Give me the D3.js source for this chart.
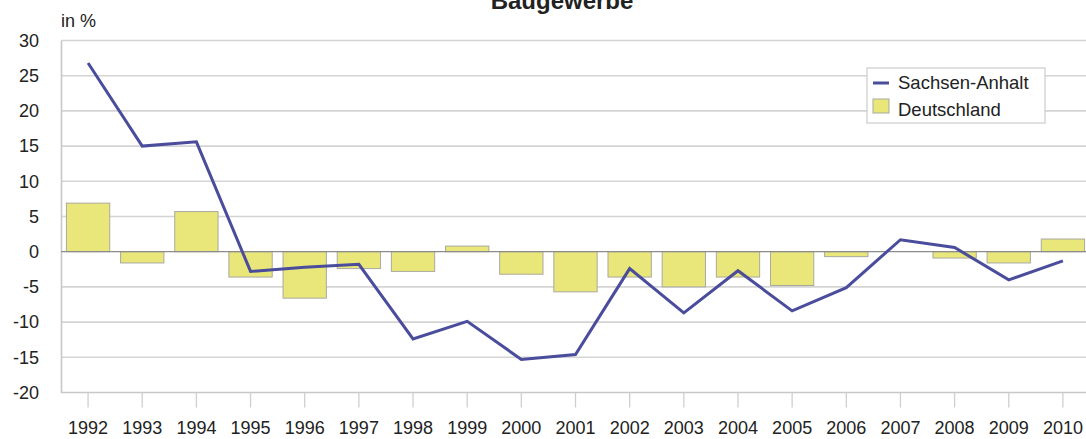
<!DOCTYPE html>
<html><head><meta charset="utf-8">
<script src="https://cdn.jsdelivr.net/npm/d3@7"></script>
<style>
html,body{margin:0;padding:0;background:#fff;}
svg{display:block;font-family:"Liberation Sans",Arial,sans-serif;}
</style></head>
<body>
<svg id="c" width="1086" height="439"></svg>
<script>
const years = ["1992","1993","1994","1995","1996","1997","1998","1999","2000","2001","2002","2003","2004","2005","2006","2007","2008","2009","2010"];
const sachsenAnhalt = [26.8,15.0,15.6,-2.8,-2.2,-1.8,-12.4,-9.9,-15.3,-14.6,-2.4,-8.7,-2.7,-8.4,-5.1,1.7,0.6,-4.0,-1.3];
const deutschland = [6.9,-1.6,5.7,-3.6,-6.6,-2.4,-2.8,0.8,-3.2,-5.7,-3.6,-5.0,-3.6,-4.8,-0.7,0.0,-0.9,-1.6,1.8];
const yTicks = [30,25,20,15,10,5,0,-5,-10,-15,-20];
const title = "Baugewerbe";
const unitLabel = "in %";
const seriesNames = ["Sachsen-Anhalt","Deutschland"];

const svg = d3.select("#c");
const mLeft = 61, mRight = 1090, mTop = 40.5, mBottom = 392.5;
const txt = "#222";

const x = d3.scaleBand().domain(years).range([mLeft, mRight]).paddingInner(0.2).paddingOuter(0.1);
const y = d3.scaleLinear().domain([-20, 30]).range([mBottom, mTop]);

// gridlines
svg.append("g").selectAll("line").data(yTicks.filter(d => d !== 0 && d !== -20)).join("line")
  .attr("x1", mLeft).attr("x2", mRight)
  .attr("y1", d => y(d)).attr("y2", d => y(d))
  .attr("stroke", "#d4d4d4").attr("stroke-width", 1.6);

// bottom border
svg.append("line").attr("x1", mLeft).attr("x2", mRight).attr("y1", y(-20)).attr("y2", y(-20))
  .attr("stroke", "#c8c8c8").attr("stroke-width", 1.6);

// y axis
const yAxis = svg.append("g").attr("transform", `translate(${mLeft},0)`)
  .call(d3.axisLeft(y).tickValues(yTicks).tickSize(0).tickPadding(22).tickFormat(d => String(d)));
yAxis.select(".domain").attr("stroke", "#c8c8c8").attr("stroke-width", 1.6);
yAxis.selectAll("text").attr("font-size", 18).attr("fill", txt).attr("font-family", "Liberation Sans, Arial, sans-serif");

// x axis (ticks at category centres, below plot)
const xAxis = svg.append("g").attr("transform", `translate(0,${mBottom})`)
  .call(d3.axisBottom(x).tickSize(15).tickPadding(14));
xAxis.select(".domain").remove();
xAxis.selectAll("line").attr("stroke", "#cfcfcf").attr("stroke-width", 1.3);
xAxis.selectAll("text").attr("font-size", 18).attr("fill", txt).attr("font-family", "Liberation Sans, Arial, sans-serif");

// bars
svg.append("g").selectAll("rect").data(years).join("rect")
  .attr("x", d => x(d))
  .attr("width", x.bandwidth())
  .attr("y", (d, i) => y(Math.max(0, deutschland[i])))
  .attr("height", (d, i) => Math.abs(y(deutschland[i]) - y(0)))
  .attr("fill", "#e9e67a").attr("stroke", "#aaa9a0").attr("stroke-width", 1);

// zero line
svg.append("line").attr("x1", mLeft).attr("x2", mRight).attr("y1", y(0)).attr("y2", y(0))
  .attr("stroke", "#8c8c8c").attr("stroke-width", 1.3);

// line
const line = d3.line().x((d, i) => x(years[i]) + x.bandwidth() / 2).y(d => y(d));
svg.append("path").datum(sachsenAnhalt).attr("d", line)
  .attr("fill", "none").attr("stroke", "#4a4c9c").attr("stroke-width", 3).attr("stroke-linejoin", "miter");

// title (cut off at the top edge as in the reference) & unit
svg.append("text").attr("x", 562).attr("y", 9).attr("text-anchor", "middle")
  .attr("font-size", 24).attr("font-weight", "bold").attr("fill", txt).text(title);
svg.append("text").attr("x", mLeft).attr("y", 27).attr("font-size", 18).attr("fill", txt).text(unitLabel);

// legend
const lg = svg.append("g");
lg.append("rect").attr("x", 867).attr("y", 68).attr("width", 178).attr("height", 55)
  .attr("fill", "#fff").attr("stroke", "#cfcfcf").attr("stroke-width", 1.3);
lg.append("line").attr("x1", 873).attr("x2", 889).attr("y1", 83).attr("y2", 83)
  .attr("stroke", "#4a4c9c").attr("stroke-width", 3);
lg.append("text").attr("x", 898).attr("y", 89).attr("font-size", 18.5).attr("fill", txt).text(seriesNames[0]);
lg.append("rect").attr("x", 873).attr("y", 99).attr("width", 16).attr("height", 14)
  .attr("fill", "#e9e67a").attr("stroke", "#aaa9a0").attr("stroke-width", 1);
lg.append("text").attr("x", 898).attr("y", 116).attr("font-size", 18.5).attr("fill", txt).text(seriesNames[1]);
</script>
</body></html>
